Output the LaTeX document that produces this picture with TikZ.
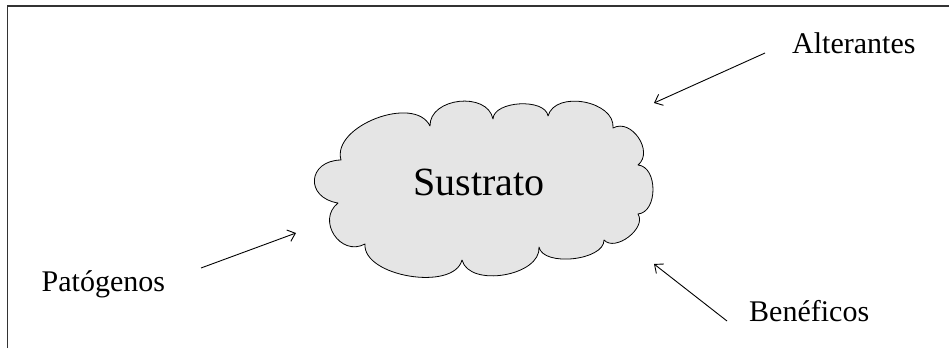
\documentclass[tikz,border=0pt]{standalone}
\usepackage{fontspec}
\setmainfont{Liberation Serif}
\usetikzlibrary{arrows.meta}
\begin{document}
\begin{tikzpicture}[x=1pt,y=1pt,
  lbl/.style={inner sep=0pt, anchor=base west, font=\fontsize{30}{36}\selectfont},
  arr/.style={line width=0.9pt, -{Straight Barb[length=7pt,width=12pt]}},
  frameline/.style={line width=1.6pt, black!80},
  puff/.style={bend left=85, looseness=#1}]
\useasboundingbox (0,0) rectangle (949,-348);
\draw[frameline] (7.5,-348) -- (7.5,-6) -- (949,-6);
% cloud cusps
\coordinate (cA) at (341,-160);
\coordinate (cB) at (430,-126);
\coordinate (cC) at (493,-119);
\coordinate (cD) at (548,-116);
\coordinate (cE) at (613,-128);
\coordinate (cF) at (638,-165);
\coordinate (cG) at (638,-214);
\coordinate (cH) at (604,-240);
\coordinate (cI) at (539,-247);
\coordinate (cJ) at (462,-260);
\coordinate (cK) at (365,-244);
\coordinate (cL) at (338,-203);
\draw[fill=gray!20, line width=0.8pt, line join=round]
  (cA) to[puff=0.95] (cB) to[puff=1.15] (cC) to[puff=0.85] (cD)
  to[puff=1.05] (cE) to[puff=1.2] (cF) to[puff=1.05] (cG)
  to[puff=1.0] (cH) to[puff=0.8] (cI) to[puff=0.95] (cJ)
  to[puff=0.85] (cK) to[puff=1.45] (cL) to[puff=2.0] cycle;
\node[inner sep=0pt, anchor=base west, font=\fontsize{40}{48}\selectfont] (sus) at (413,-195) {Sustrato};
\node[lbl] (alt) at (792,-53.5) {Alterantes};
\node[lbl] (pat) at (41.5,-291.5) {Patógenos};
\node[lbl] (ben) at (749,-321) {Benéficos};
\coordinate (altS) at (765,-53);
\coordinate (altE) at (654,-103);
\coordinate (patS) at (201,-268);
\coordinate (patE) at (296,-233);
\coordinate (benS) at (727,-321);
\coordinate (benE) at (654,-264);
\draw[arr] (altS) -- (altE);
\draw[arr] (patS) -- (patE);
\draw[arr] (benS) -- (benE);
\end{tikzpicture}
\end{document}
